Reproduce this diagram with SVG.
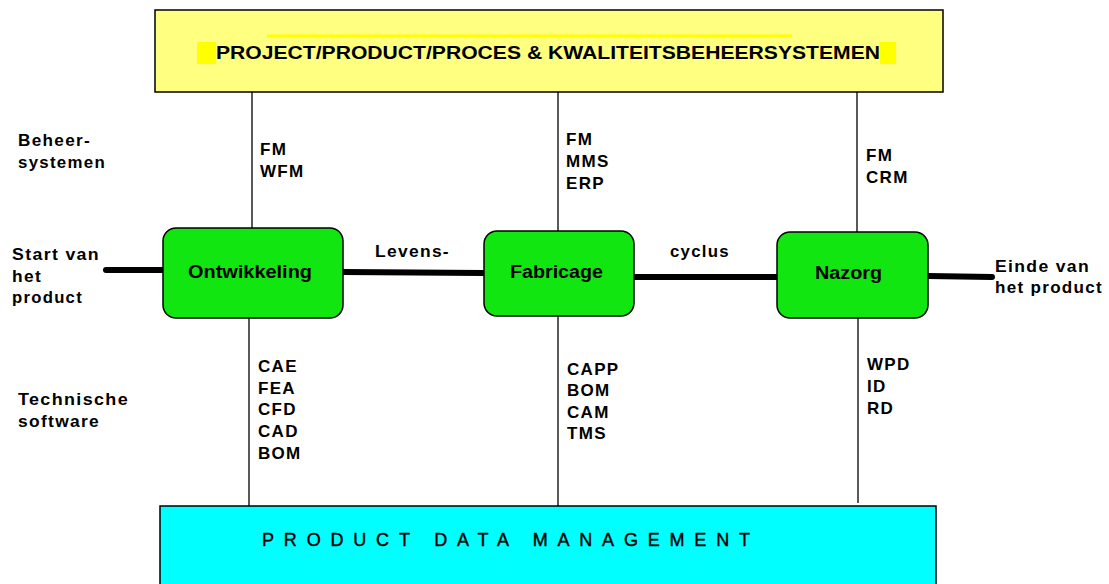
<svg xmlns="http://www.w3.org/2000/svg" width="1109" height="584" viewBox="0 0 1109 584">
<style>
.t{font-family:"Liberation Sans",Arial,sans-serif;font-weight:bold;font-size:17px;letter-spacing:1.3px;fill:#000}
.n{font-family:"Liberation Sans",Arial,sans-serif;font-weight:bold;font-size:18px;fill:#000}
.box{fill:#11e611;stroke:#000;stroke-width:1.5}
.thin{stroke:#000;stroke-width:1.3;fill:none}
.thick{stroke:#000;stroke-width:6;stroke-linecap:round;fill:none}
</style>
<rect width="1109" height="584" fill="#fff"/>
<g id="top">
<rect x="155" y="10" width="788" height="82" fill="#ffff80" stroke="#000" stroke-width="1.5"/>
<line x1="267" y1="36" x2="792" y2="36" stroke="#ffff00" stroke-width="3"/>
<rect x="197" y="42" width="699" height="22" fill="#ffff00"/>
<rect x="216" y="42" width="664" height="22" fill="#ffff80"/>
<text x="216" y="59" class="t" style="font-size:19px;letter-spacing:0" textLength="664" lengthAdjust="spacingAndGlyphs">PROJECT/PRODUCT/PROCES &amp; KWALITEITSBEHEERSYSTEMEN</text>
</g>
<g id="pdm">
<rect x="160" y="506" width="776" height="90" fill="#00ffff" stroke="#000" stroke-width="1.5"/>
<text x="262" y="546" class="t" style="font-size:18px;font-weight:normal;letter-spacing:0;stroke:#000;stroke-width:0.4" textLength="488" lengthAdjust="spacing">PRODUCT DATA MANAGEMENT</text>
</g>
<g id="connectors">
<line class="thin" x1="252" y1="92" x2="252" y2="229"/>
<line class="thin" x1="558" y1="92" x2="558" y2="232"/>
<line class="thin" x1="857" y1="92" x2="857" y2="232"/>
<line class="thin" x1="249" y1="318" x2="249" y2="506"/>
<line class="thin" x1="558" y1="316" x2="558" y2="506"/>
<line class="thin" x1="858" y1="317" x2="858" y2="503"/>
<line class="thick" x1="106" y1="270" x2="163" y2="270"/>
<line class="thick" x1="343" y1="272" x2="484" y2="273"/>
<line class="thick" x1="634" y1="277" x2="777" y2="277"/>
<line class="thick" x1="928" y1="276" x2="992" y2="277"/>
</g>
<g id="ontwikkeling">
<rect class="box" x="163" y="228" width="180" height="90" rx="13"/>
<text class="n" x="188" y="278" textLength="124" lengthAdjust="spacingAndGlyphs">Ontwikkeling</text>
</g>
<g id="fabricage">
<rect class="box" x="484" y="231" width="150" height="85" rx="13"/>
<text class="n" x="510" y="278" textLength="93" lengthAdjust="spacingAndGlyphs">Fabricage</text>
</g>
<g id="nazorg">
<rect class="box" x="777" y="232" width="151" height="86" rx="13"/>
<text class="n" x="815" y="279" textLength="67" lengthAdjust="spacingAndGlyphs">Nazorg</text>
</g>
<g id="labels">
<text class="t" x="18" y="146" textLength="73" lengthAdjust="spacingAndGlyphs">Beheer-</text>
<text class="t" x="18" y="168" textLength="88" lengthAdjust="spacingAndGlyphs">systemen</text>
<text class="t" x="18" y="405" textLength="111" lengthAdjust="spacingAndGlyphs">Technische</text>
<text class="t" x="18" y="427" textLength="82" lengthAdjust="spacingAndGlyphs">software</text>
<text class="t" x="12" y="260" textLength="88" lengthAdjust="spacingAndGlyphs">Start van</text>
<text class="t" x="12" y="282" textLength="30" lengthAdjust="spacingAndGlyphs">het</text>
<text class="t" x="12" y="303" textLength="71" lengthAdjust="spacingAndGlyphs">product</text>
<text class="t" x="995" y="272" textLength="95" lengthAdjust="spacingAndGlyphs">Einde van</text>
<text class="t" x="995" y="293" textLength="108" lengthAdjust="spacingAndGlyphs">het product</text>
<text class="t" x="375" y="257" textLength="75" lengthAdjust="spacingAndGlyphs">Levens-</text>
<text class="t" x="670" y="257" textLength="60" lengthAdjust="spacingAndGlyphs">cyclus</text>
<text class="t" x="260" y="155">FM</text>
<text class="t" x="260" y="177">WFM</text>
<text class="t" x="566" y="145">FM</text>
<text class="t" x="566" y="167">MMS</text>
<text class="t" x="566" y="189">ERP</text>
<text class="t" x="866" y="161">FM</text>
<text class="t" x="866" y="183">CRM</text>
<text class="t" x="258" y="372">CAE</text>
<text class="t" x="258" y="394">FEA</text>
<text class="t" x="258" y="415">CFD</text>
<text class="t" x="258" y="437">CAD</text>
<text class="t" x="258" y="459">BOM</text>
<text class="t" x="567" y="375">CAPP</text>
<text class="t" x="567" y="396">BOM</text>
<text class="t" x="567" y="418">CAM</text>
<text class="t" x="567" y="439">TMS</text>
<text class="t" x="867" y="370">WPD</text>
<text class="t" x="867" y="392">ID</text>
<text class="t" x="867" y="414">RD</text>
</g>
</svg>
